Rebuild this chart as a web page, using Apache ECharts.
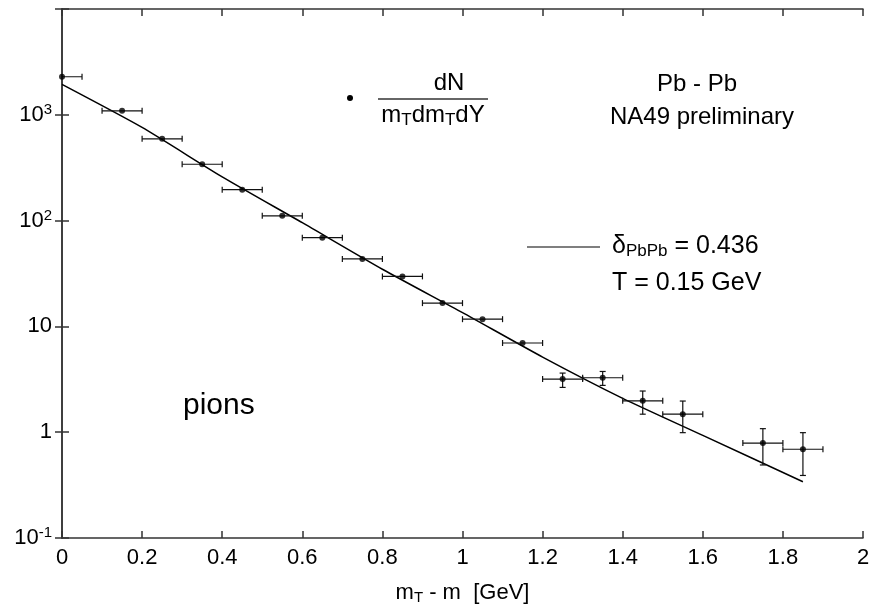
<!DOCTYPE html>
<html><head><meta charset="utf-8">
<script src="https://cdn.jsdelivr.net/npm/echarts@6/dist/echarts.min.js"></script>
<style>html,body{margin:0;padding:0;background:#fff}#c{width:874px;height:610px}</style>
</head><body><div id="c"></div>
<script>
// measured points (mT - m [GeV], dN/(mT dmT dY))
const ptX   = [0, 0.15, 0.25, 0.35, 0.45, 0.55, 0.65, 0.75, 0.85, 0.95, 1.05, 1.15, 1.25, 1.35, 1.45, 1.55, 1.75, 1.85];
const ptY   = [2290, 1090, 593, 341, 196, 111, 69, 43.4, 29.7, 16.6, 11.7, 6.97, 3.18, 3.27, 1.98, 1.48, 0.79, 0.69];
const xErr  = [0.05, 0.05, 0.05, 0.05, 0.05, 0.05, 0.05, 0.05, 0.05, 0.05, 0.05, 0.05, 0.05, 0.05, 0.05, 0.05, 0.05, 0.05];
const yLow  = [null, null, null, null, null, null, null, null, null, null, null, null, 2.65, 2.77, 1.48, 0.99, 0.49, 0.39];
const yHigh = [null, null, null, null, null, null, null, null, null, null, null, null, 3.62, 3.75, 2.45, 1.97, 1.08, 0.99];
// fitted curve (delta_PbPb = 0.436, T = 0.15 GeV)
const fitX  = [0, 0.2, 0.4, 0.6, 0.8, 1.0, 1.2, 1.4, 1.6, 1.85];
const fitY  = [1936, 759, 259, 95.5, 34.7, 13.5, 5.13, 2.09, 0.933, 0.34];
// axes
const xTicks = [0, 0.2, 0.4, 0.6, 0.8, 1, 1.2, 1.4, 1.6, 1.8, 2];
const yMin = 0.1, yMax = 10000;

const FONT = "'Liberation Sans', Arial, Helvetica, sans-serif";
const AX = '#333';

const chart = echarts.init(document.getElementById('c'), null, {renderer: 'canvas'});

const pts = ptX.map((x, i) => [x, ptY[i]]);
const errData = ptX.map((x, i) => [x, ptY[i], xErr[i], yLow[i] == null ? ptY[i] : yLow[i], yHigh[i] == null ? ptY[i] : yHigh[i]]);
const fitData = fitX.map((x, i) => [x, fitY[i]]);

function yLabel(v) {
  const e = Math.round(Math.log10(v));
  if (e === -1) return '10{sup|-1}';
  if (e === 0) return '1';
  if (e === 1) return '10';
  if (e === 2 || e === 3) return '10{sup|' + e + '}';
  return '';
}

const axisCommon = {
  axisLine: {show: true, lineStyle: {color: AX, width: 1.5}},
  axisTick: {show: true, inside: true, length: 7, lineStyle: {color: AX, width: 1.5}},
  splitLine: {show: false},
  minorTick: {show: false}
};

const subRich = {fontSize: 17, fontFamily: FONT, fill: '#000', verticalAlign: 'bottom', padding: [11, 0, 0, 0]};

const option = {
  animation: false,
  backgroundColor: '#fff',
  grid: {left: 62, right: 11, top: 9, bottom: 68, containLabel: false},
  xAxis: [
    Object.assign({
      type: 'value', min: 0, max: 2, interval: 0.2, position: 'bottom',
      axisLabel: {margin: 9, fontSize: 22, color: '#000', fontFamily: FONT,
        formatter: v => String(parseFloat(v.toFixed(1)))},
      name: 'm{sub|T} - m  [GeV]', nameLocation: 'middle', nameGap: 42,
      nameTextStyle: {fontSize: 22, color: '#000', fontFamily: FONT,
        rich: {sub: {fontSize: 15, fontFamily: FONT, color: '#000', verticalAlign: 'bottom', padding: [10, 0, 0, 0]}}}
    }, axisCommon),
    Object.assign({
      type: 'value', min: 0, max: 2, interval: 0.2, position: 'top',
      axisLabel: {show: false}
    }, axisCommon)
  ],
  yAxis: [
    Object.assign({
      type: 'log', logBase: 10, min: yMin, max: yMax, position: 'left',
      axisLabel: {margin: 10, fontSize: 22, color: '#000', fontFamily: FONT, formatter: yLabel,
        rich: {sup: {fontSize: 15, fontFamily: FONT, color: '#000', verticalAlign: 'top', padding: [0, 0, 10, 0]}}}
    }, axisCommon),
    Object.assign({
      type: 'log', logBase: 10, min: yMin, max: yMax, position: 'right',
      axisLabel: {show: false}
    }, axisCommon)
  ],
  series: [
    {
      type: 'line', xAxisIndex: 0, yAxisIndex: 0, data: fitData, showSymbol: false, symbol: 'none',
      smooth: 0.2, lineStyle: {color: '#000', width: 1.5}, z: 2
    },
    {
      type: 'custom', xAxisIndex: 0, yAxisIndex: 0, data: errData, clip: true, z: 3,
      renderItem: function (params, api) {
        const x = api.value(0), y = api.value(1), dx = api.value(2), lo = api.value(3), hi = api.value(4);
        const pl = api.coord([x - dx, y]), pr = api.coord([x + dx, y]);
        const pc = api.coord([x, y]);
        const pLo = api.coord([x, lo]), pHi = api.coord([x, hi]);
        const st = {stroke: '#111', lineWidth: 1.2};
        const c = 3;
        const kids = [
          {type: 'line', shape: {x1: pl[0], y1: pl[1], x2: pr[0], y2: pr[1]}, style: st},
          {type: 'line', shape: {x1: pl[0], y1: pl[1] - c, x2: pl[0], y2: pl[1] + c}, style: st},
          {type: 'line', shape: {x1: pr[0], y1: pr[1] - c, x2: pr[0], y2: pr[1] + c}, style: st}
        ];
        if (Math.abs(pLo[1] - pHi[1]) > 1) {
          kids.push({type: 'line', shape: {x1: pc[0], y1: pLo[1], x2: pc[0], y2: pHi[1]}, style: st});
          kids.push({type: 'line', shape: {x1: pc[0] - c, y1: pLo[1], x2: pc[0] + c, y2: pLo[1]}, style: st});
          kids.push({type: 'line', shape: {x1: pc[0] - c, y1: pHi[1], x2: pc[0] + c, y2: pHi[1]}, style: st});
        }
        return {type: 'group', children: kids};
      }
    },
    {
      type: 'scatter', xAxisIndex: 0, yAxisIndex: 0, data: pts, symbol: 'circle', symbolSize: 6,
      itemStyle: {color: '#000'}, clip: false, z: 4
    }
  ],
  graphic: [
    {type: 'circle', shape: {cx: 350, cy: 98, r: 3}, style: {fill: '#000'}},
    {type: 'text', x: 449, y: 83, style: {text: 'dN', fontSize: 24, fontFamily: FONT, fill: '#000', align: 'center', verticalAlign: 'middle'}},
    {type: 'line', shape: {x1: 378, y1: 99, x2: 488, y2: 99}, style: {stroke: '#333', lineWidth: 1.5}},
    {type: 'text', x: 433, y: 115, style: {text: 'm{sub|T}dm{sub|T}dY', fontSize: 24, fontFamily: FONT, fill: '#000', align: 'center', verticalAlign: 'middle',
      rich: {sub: subRich}}},
    {type: 'text', x: 697, y: 84, style: {text: 'Pb - Pb', fontSize: 24, fontFamily: FONT, fill: '#000', align: 'center', verticalAlign: 'middle'}},
    {type: 'text', x: 702, y: 117, style: {text: 'NA49 preliminary', fontSize: 24, fontFamily: FONT, fill: '#000', align: 'center', verticalAlign: 'middle'}},
    {type: 'line', shape: {x1: 527, y1: 247, x2: 600, y2: 247}, style: {stroke: '#000', lineWidth: 1.2}},
    {type: 'text', x: 612, y: 246, style: {text: 'δ{sub|PbPb} = 0.436', fontSize: 25, fontFamily: FONT, fill: '#000', align: 'left', verticalAlign: 'middle',
      rich: {sub: subRich}}},
    {type: 'text', x: 612, y: 283, style: {text: 'T = 0.15 GeV', fontSize: 25, fontFamily: FONT, fill: '#000', align: 'left', verticalAlign: 'middle'}},
    {type: 'text', x: 183, y: 406, style: {text: 'pions', fontSize: 30, fontFamily: FONT, fill: '#000', align: 'left', verticalAlign: 'middle'}}
  ]
};
chart.setOption(option);
</script>
</body></html>
